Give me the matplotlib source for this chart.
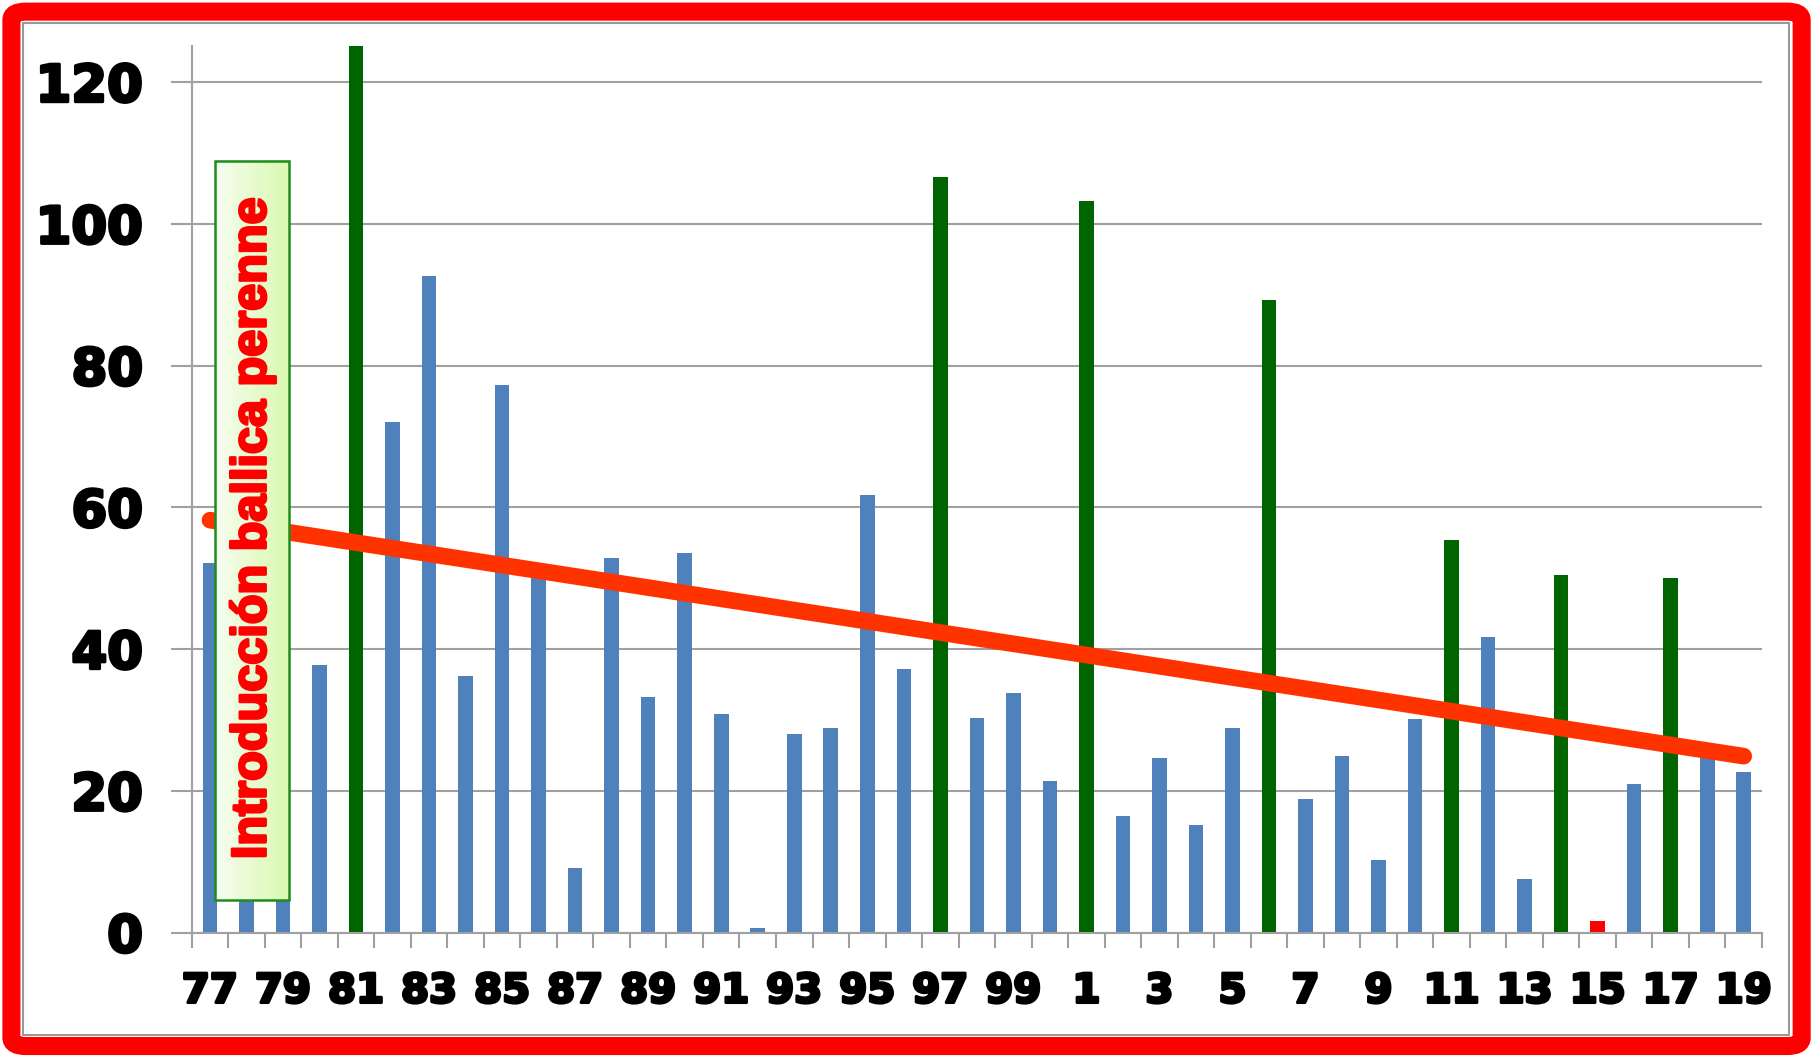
import numpy as np
import matplotlib
matplotlib.use("Agg")
import matplotlib.pyplot as plt
import matplotlib.patheffects as pe
from matplotlib.patches import FancyBboxPatch, Rectangle

# ---------------------------------------------------------------------------
# Data
# ---------------------------------------------------------------------------
years = list(range(1977, 2020))
values = [52.2, 30.0, 12.2, 37.7, 125.1, 72.1, 92.6, 36.2, 77.3, 51.0,
          9.1, 52.8, 33.3, 53.5, 30.8, 0.7, 28.0, 28.9, 61.8, 37.2,
          106.6, 30.3, 33.8, 21.4, 103.2, 16.5, 24.6, 15.2, 28.9, 89.2,
          18.8, 24.9, 10.3, 30.2, 55.4, 41.7, 7.5, 50.4, 1.6, 21.0,
          50.1, 25.5, 22.7]
green_years = [1981, 1997, 2001, 2006, 2011, 2014, 2017]
red_years = [2015]

trend_years = [1977, 2019]
trend_values = [58.2, 24.9]

yticks = [0, 20, 40, 60, 80, 100, 120]
note_text = "Introducción ballica perenne"

BLUE = "#4f81bd"
GREEN = "#006400"
RED = "#ff0000"
TREND = "#ff3300"
GRID = "#a0a0a0"

# heavier look for the bold labels (reference uses a black-weight face)
heavy = [pe.withStroke(linewidth=2.2, foreground="black")]

# ---------------------------------------------------------------------------
# Figure
# ---------------------------------------------------------------------------
fig = plt.figure(figsize=(18.12, 10.58), dpi=100)
ax = fig.add_axes([0.1058, 0.1185, 0.8666, 0.838])

x = np.arange(len(years))
colors = [GREEN if y in green_years else RED if y in red_years else BLUE
          for y in years]
ax.bar(x, values, width=0.4, color=colors, zorder=2)

tx = [years.index(y) for y in trend_years]
ax.plot(tx, trend_values, color=TREND, lw=12, solid_capstyle="round", zorder=3)

# annotation box with light green gradient
bx0, bx1, by0, by1 = 0.13, 2.17, 4.6, 108.9
grad = np.linspace(0, 1, 64).reshape(1, -1)
cmap = matplotlib.colors.LinearSegmentedColormap.from_list(
    "g", ["#f6fdf0", "#d9f9b0"])
ax.imshow(grad, extent=[bx0, bx1, by0, by1], aspect="auto", cmap=cmap,
          zorder=4, interpolation="bicubic")
ax.add_patch(Rectangle((bx0, by0), bx1 - bx0, by1 - by0, fill=False,
                       ec="#1e8c1e", lw=1.8, zorder=5))
ax.text((bx0 + bx1) / 2 + 0.03, 57, note_text, rotation=90, color=RED,
        fontsize=35, fontweight="bold", family="Liberation Sans",
        ha="center", va="center", zorder=6,
        path_effects=[pe.withStroke(linewidth=2, foreground=RED)])

ax.set_xlim(-0.5, len(years) - 0.5)
ax.set_ylim(0, 125.1)

# y axis
ax.set_yticks(yticks)
ax.set_yticklabels([str(v) for v in yticks], fontsize=37, fontweight="bold")
ax.tick_params(axis="y", length=15, width=1.5, color=GRID, pad=20)
ax.yaxis.grid(True, color=GRID, lw=1.5, zorder=0)
ax.set_axisbelow(True)
for t in ax.get_yticklabels():
    t.set_path_effects(heavy)

# x axis: ticks between categories, labels on every other year
ax.set_xticks(np.arange(-0.5, len(years), 1))
ax.set_xticklabels([])
ax.tick_params(axis="x", which="major", length=11, width=1.5, color=GRID)
lab_pos = x[::2]
ax.set_xticks(lab_pos, [str(years[i] % 100) for i in lab_pos], minor=True)
ax.tick_params(axis="x", which="minor", length=0, pad=28, labelsize=29)
for t in ax.get_xticklabels(minor=True):
    t.set_fontweight("bold")
    t.set_path_effects(heavy)

for s in ["top", "right"]:
    ax.spines[s].set_visible(False)
for s in ["left", "bottom"]:
    ax.spines[s].set_color(GRID)
    ax.spines[s].set_linewidth(1.5)

# outer frames
fig.patches.append(Rectangle((0.0125, 0.022), 0.975, 0.956, fill=False,
                             ec="#999999", lw=1.5, transform=fig.transFigure))
fig.patches.append(FancyBboxPatch((0.0063, 0.0113), 0.988, 0.9777,
                                  boxstyle="round,pad=0,rounding_size=0.008",
                                  fill=False, ec="red", lw=13,
                                  transform=fig.transFigure))

fig.savefig("out.png", dpi=100)
